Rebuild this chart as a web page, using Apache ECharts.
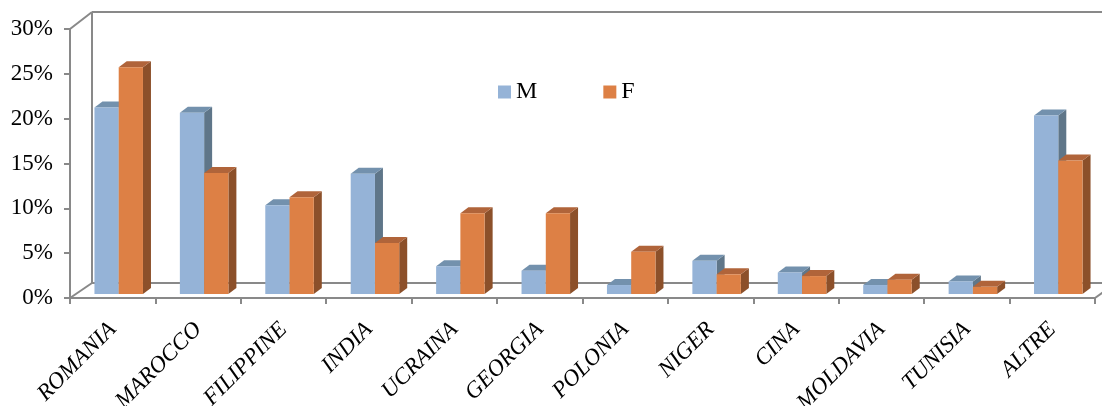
<!DOCTYPE html>
<html>
<head>
<meta charset="utf-8">
<script src="https://cdn.jsdelivr.net/npm/echarts@6/dist/echarts.min.js"></script>
<style>
  html, body { margin: 0; padding: 0; background: #fff; }
  #chart { width: 1102px; height: 406px; }
</style>
</head>
<body>
<div id="chart"></div>
<script>
// dati (quota percentuale)
var paesi = ['ROMANIA', 'MAROCCO', 'FILIPPINE', 'INDIA', 'UCRAINA', 'GEORGIA',
  'POLONIA', 'NIGER', 'CINA', 'MOLDAVIA', 'TUNISIA', 'ALTRE'];
var maschi = [0.208, 0.202, 0.099, 0.134, 0.031, 0.026, 0.010, 0.037, 0.024, 0.010, 0.014, 0.199];
var femmine = [0.253, 0.135, 0.108, 0.057, 0.090, 0.090, 0.047, 0.022, 0.020, 0.016, 0.008, 0.149];
var yTicks = [0, 0.05, 0.10, 0.15, 0.20, 0.25, 0.30];

var GRID_L = 70, GRID_R = 7, GRID_T = 29, GRID_B = 108;
var DEPTH_X = 22, DEPTH_Y = 16;   // profondita' del pavimento 3D
var frameColor = '#898989';

function bar3d(side, front, top, lato) {
  return function (params, api) {
    var i = api.value(0);
    var v = api.value(1);
    var base = api.coord([i, 0]);
    var head = api.coord([i, v]);
    var bw = api.size([1, 0])[0] * 0.284;
    var sx = 6, sy = -4, dx = 8, dy = -6;
    var x0 = side === 'M' ? base[0] - bw + sx : base[0] + sx;
    var x1 = x0 + bw;
    var yb = base[1] + sy, yt = head[1] + sy;
    return {
      type: 'group',
      children: [
        { type: 'polygon', shape: { points: [[x1, yt], [x1 + dx, yt + dy], [x1 + dx, yb + dy], [x1, yb]] },
          style: { fill: lato } },
        { type: 'polygon', shape: { points: [[x0, yt], [x0 + dx, yt + dy], [x1 + dx, yt + dy], [x1, yt]] },
          style: { fill: top } },
        { type: 'rect', shape: { x: x0, y: yt, width: bw, height: yb - yt },
          style: { fill: front } }
      ]
    };
  };
}

var chart = echarts.init(document.getElementById('chart'));
var font = '"Liberation Serif", "Times New Roman", serif';

chart.setOption({
  animation: false,
  grid: { left: GRID_L, right: GRID_R, top: GRID_T, bottom: GRID_B, outerBoundsMode: 'none', containLabel: false },
  legend: {
    left: 493, top: 75,
    itemWidth: 13, itemHeight: 13, itemGap: 66,
    icon: 'rect',
    textStyle: { fontFamily: font, fontSize: 24, color: '#000' },
    data: ['M', 'F']
  },
  xAxis: {
    type: 'category',
    data: paesi,
    axisLine: { lineStyle: { color: frameColor, width: 2 } },
    axisTick: { show: true, length: 6, lineStyle: { color: frameColor, width: 2 } },
    axisLabel: {
      rotate: 45, margin: 28, interval: 0, hideOverlap: false,
      fontFamily: font, fontStyle: 'italic', fontSize: 23, color: '#000'
    }
  },
  yAxis: {
    type: 'value',
    min: 0, max: 0.3, interval: 0.05,
    axisLine: { show: true, lineStyle: { color: frameColor, width: 2 } },
    axisTick: { show: true, length: 6, lineStyle: { color: frameColor, width: 2 } },
    splitLine: { show: false },
    axisLabel: {
      margin: 17,
      fontFamily: font, fontSize: 23, color: '#000',
      formatter: function (v) {
        var k = yTicks.indexOf(Math.round(v * 100) / 100);
        return (k >= 0 ? Math.round(yTicks[k] * 100) : Math.round(v * 100)) + '%';
      }
    }
  },
  series: [
    {
      name: 'M', type: 'custom',
      itemStyle: { color: '#95B3D7' },
      renderItem: bar3d('M', '#95B3D7', '#7391AD', '#5F7689'),
      encode: { x: 0, y: 1 },
      data: maschi.map(function (v, i) { return [i, v]; })
    },
    {
      name: 'F', type: 'custom',
      itemStyle: { color: '#DD8045' },
      renderItem: bar3d('F', '#DD8045', '#B0643A', '#8C502A'),
      encode: { x: 0, y: 1 },
      data: femmine.map(function (v, i) { return [i, v]; })
    }
  ]
});

// parete di fondo e pavimento (cornice 3D)
var W = chart.getWidth(), H = chart.getHeight();
var xl = GRID_L, xr = W - GRID_R, yt = GRID_T, yb = H - GRID_B;
var ls = { stroke: frameColor, lineWidth: 2 };
function seg(a, b) { return { type: 'line', shape: { x1: a[0], y1: a[1], x2: b[0], y2: b[1] }, style: ls, z: -1 }; }
chart.setOption({
  graphic: [
    seg([xl, yt], [xl + DEPTH_X, yt - DEPTH_Y - 1]),
    seg([xl + DEPTH_X, yt - DEPTH_Y - 1], [W, yt - DEPTH_Y - 1]),
    seg([xl + DEPTH_X, yt - DEPTH_Y - 1], [xl + DEPTH_X, yb - DEPTH_Y + 1]),
    seg([xl, yb], [xl + DEPTH_X, yb - DEPTH_Y + 1]),
    seg([xl + DEPTH_X, yb - DEPTH_Y + 1], [W, yb - DEPTH_Y + 1]),
    seg([xr, yb], [xr + DEPTH_X, yb - DEPTH_Y])
  ]
});
</script>
</body>
</html>
